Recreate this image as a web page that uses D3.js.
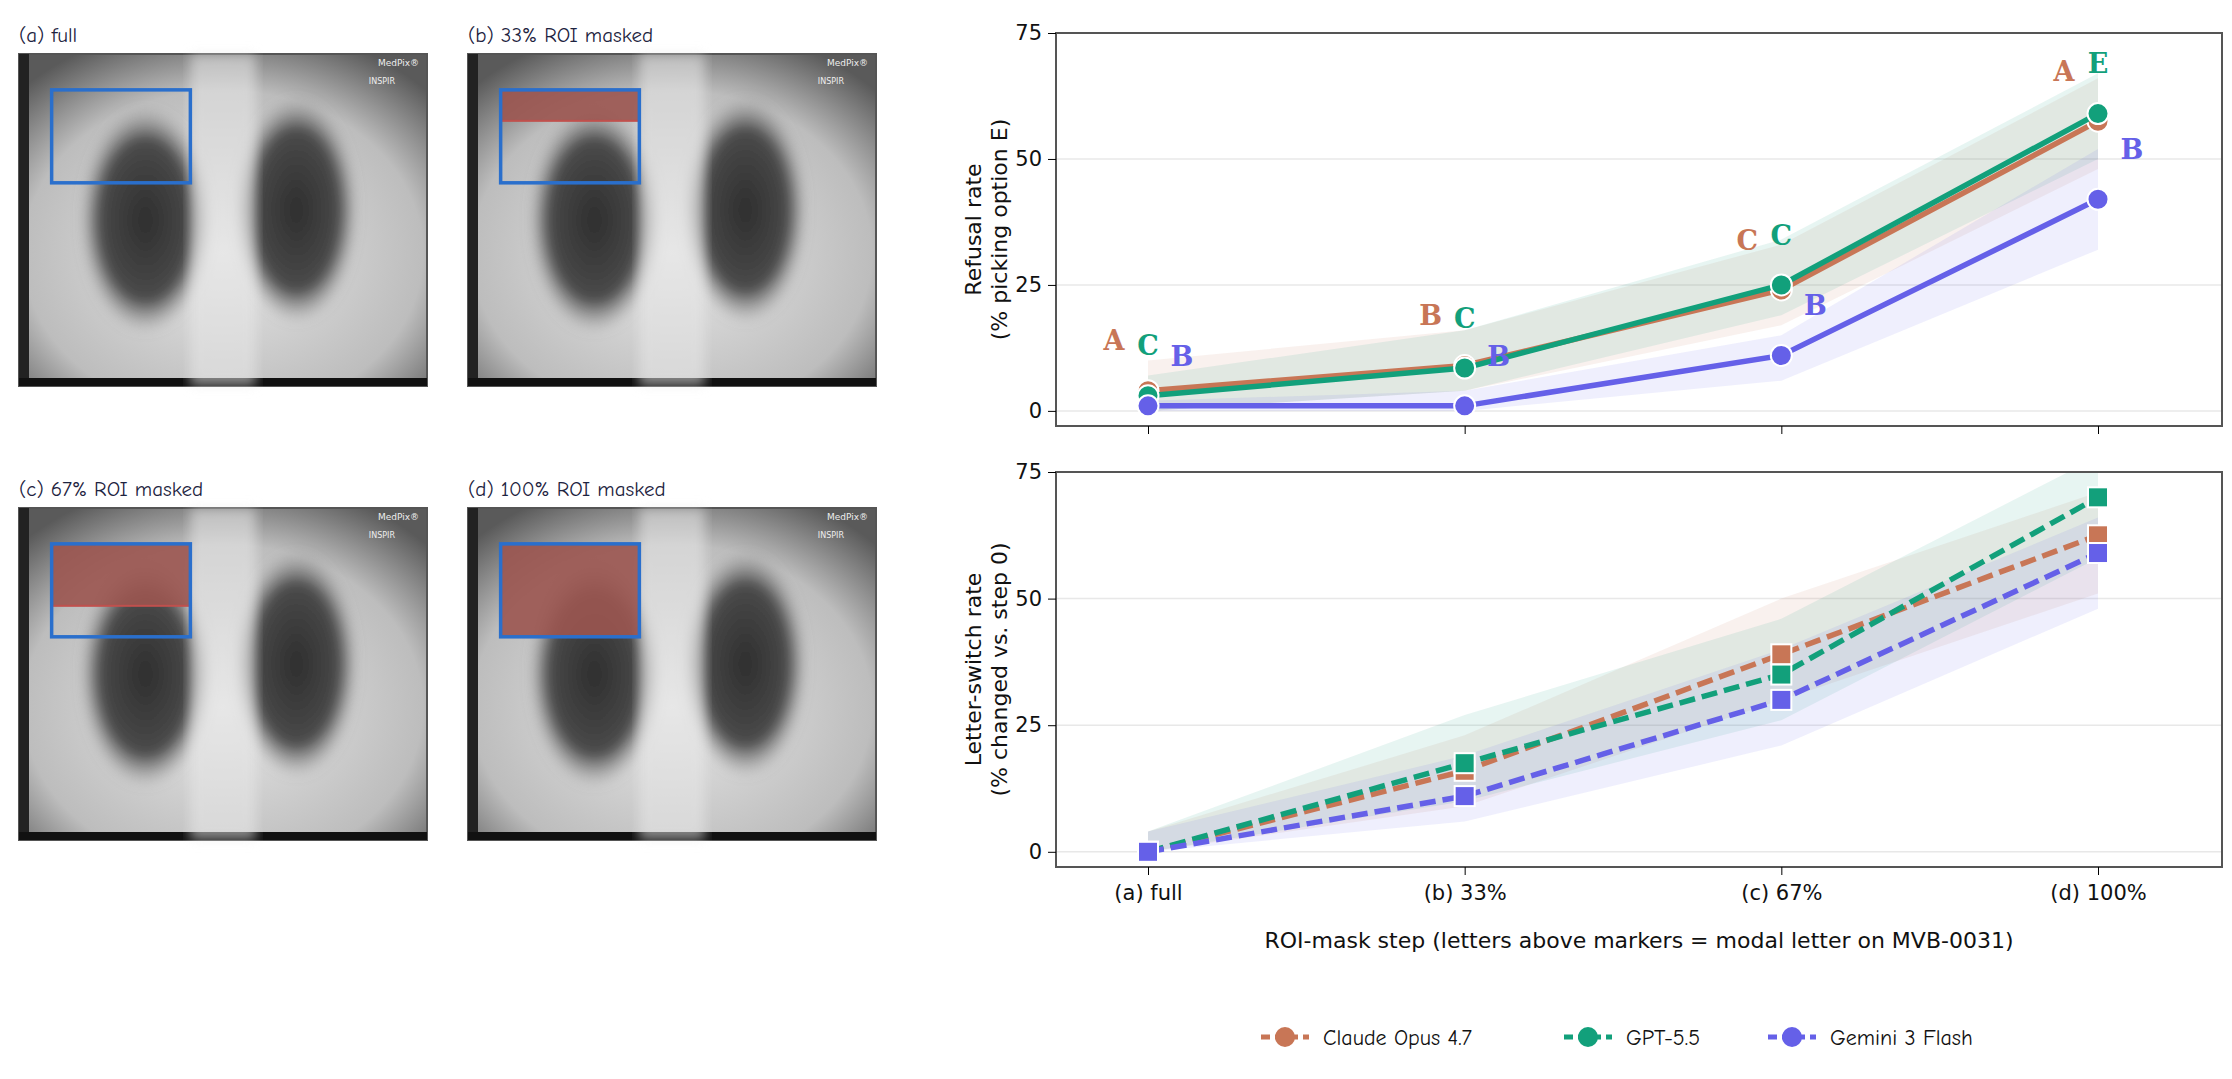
<!DOCTYPE html>
<html><head><meta charset="utf-8">
<script src="https://cdn.jsdelivr.net/npm/d3@7"></script>
<style>body{margin:0;background:#fff}</style>
</head><body>
<script>
const steps = ['(a) full', '(b) 33%', '(c) 67%', '(d) 100%'];
const panelTitles = ['(a) full', '(b) 33% ROI masked', '(c) 67% ROI masked', '(d) 100% ROI masked'];
const maskFrac = [0, 1 / 3, 2 / 3, 1];
const models = ['Claude Opus 4.7', 'GPT-5.5', 'Gemini 3 Flash'];
const colors = ['#c87656', '#12a07b', '#6560e8'];
const letterDx = [-34, 0, 34];

const refusal = [[4, 9, 24, 57.5], [3, 8.5, 25, 59], [1, 1, 11, 42]];
const refusalLo = [[0, 4, 17, 48], [0, 4, 19, 50], [0, 0, 6, 32]];
const refusalHi = [[10, 16, 33, 66], [7, 16, 34, 67], [2, 4, 15, 52]];
const letters = [['A', 'B', 'C', 'A'], ['C', 'C', 'C', 'E'], ['B', 'B', 'B', 'B']];

const switchRate = [[0, 16, 39, 62.5], [0, 17.5, 35, 70], [0, 11, 30, 59]];
const switchLo = [[0, 9, 30, 51], [0, 10, 26, 58], [0, 6, 21, 48]];
const switchHi = [[4, 23, 50, 71], [4, 27, 46, 78], [4, 19, 40, 66]];

const W = 2232, H = 1079;
const svg = d3.select('body').append('svg').attr('width', W).attr('height', H)
  .style('font-family', 'DejaVu Sans, sans-serif');
const defs = svg.append('defs');

// x-ray style panels
const bg = defs.append('radialGradient').attr('id', 'xr').attr('cx', '50%').attr('cy', '60%').attr('r', '70%');
bg.append('stop').attr('offset', '0%').attr('stop-color', '#e6e6e6');
bg.append('stop').attr('offset', '70%').attr('stop-color', '#bdbdbd');
bg.append('stop').attr('offset', '100%').attr('stop-color', '#5a5a5a');
const lung = defs.append('radialGradient').attr('id', 'lung');
lung.append('stop').attr('offset', '0%').attr('stop-color', '#2e2e2e');
lung.append('stop').attr('offset', '70%').attr('stop-color', '#4a4a4a');
lung.append('stop').attr('offset', '100%').attr('stop-color', '#8a8a8a').attr('stop-opacity', 0);
defs.append('filter').attr('id', 'blur').append('feGaussianBlur').attr('stdDeviation', 6);

const pw = 408, ph = 332;
const px = [19, 468], py = [54, 508];
panelTitles.forEach((t, i) => {
  const x0 = px[i % 2], y0 = py[Math.floor(i / 2)];
  const g = svg.append('g').attr('transform', `translate(${x0},${y0})`);
  g.append('rect').attr('width', pw).attr('height', ph).attr('fill', 'url(#xr)').attr('stroke', '#555').attr('stroke-width', 2);
  g.append('rect').attr('width', 10).attr('height', ph).attr('fill', '#222');
  g.append('rect').attr('y', ph - 8).attr('width', pw).attr('height', 8).attr('fill', '#111');
  g.append('ellipse').attr('cx', pw * 0.31).attr('cy', ph * 0.5).attr('rx', pw * 0.16).attr('ry', ph * 0.34)
    .attr('fill', 'url(#lung)').attr('filter', 'url(#blur)');
  g.append('ellipse').attr('cx', pw * 0.68).attr('cy', ph * 0.47).attr('rx', pw * 0.15).attr('ry', ph * 0.34)
    .attr('fill', 'url(#lung)').attr('filter', 'url(#blur)');
  g.append('rect').attr('x', pw * 0.42).attr('y', 0).attr('width', pw * 0.16).attr('height', ph)
    .attr('fill', '#e8e8e8').attr('opacity', 0.55).attr('filter', 'url(#blur)');
  g.append('text').attr('x', pw - 8).attr('y', 12).attr('text-anchor', 'end').attr('font-size', 9).attr('fill', '#eee').text('MedPix®');
  g.append('text').attr('x', pw - 32).attr('y', 30).attr('text-anchor', 'end').attr('font-size', 8).attr('fill', '#eee').text('INSPIR');
  const bx = pw * 0.08, by = ph * 0.108, bw = pw * 0.34, bh = ph * 0.28;
  if (maskFrac[i] > 0) {
    g.append('rect').attr('x', bx).attr('y', by).attr('width', bw).attr('height', bh * maskFrac[i])
      .attr('fill', '#9b5550').attr('fill-opacity', 0.9).attr('stroke', '#c0504d').attr('stroke-width', 2);
  }
  g.append('rect').attr('x', bx).attr('y', by).attr('width', bw).attr('height', bh)
    .attr('fill', 'none').attr('stroke', '#2a6fcc').attr('stroke-width', 3.5);
  svg.append('text').attr('x', x0).attr('y', y0 - 12).attr('font-size', 21).attr('fill', '#1d2340')
    .style('font-family', 'Comic Neue, Noto Sans, sans-serif').text(t);
});

// charts
const left = 1056, right = 2222;
const x = d3.scalePoint().domain(steps).range([1148, 2098]);

function chart(top, bottom, vals, lo, hi, opts) {
  const y = d3.scaleLinear().domain([-3, 75]).range([bottom, top]);
  const g = svg.append('g');
  [0, 25, 50, 75].forEach(v => g.append('line').attr('x1', left).attr('x2', right)
    .attr('y1', y(v)).attr('y2', y(v)).attr('stroke', '#e8e8e8').attr('stroke-width', 1.5));
  const clip = 'clip' + top;
  defs.append('clipPath').attr('id', clip).append('rect').attr('x', left).attr('y', top).attr('width', right - left).attr('height', bottom - top);
  const area = d3.area().x((d, i) => x(steps[i])).y0(d => y(d[0])).y1(d => y(d[1]));
  models.forEach((m, k) => {
    g.append('path').datum(lo[k].map((v, i) => [v, hi[k][i]])).attr('d', area)
      .attr('fill', colors[k]).attr('fill-opacity', 0.1).attr('clip-path', `url(#${clip})`);
  });
  const line = d3.line().x((d, i) => x(steps[i])).y(d => y(d));
  models.forEach((m, k) => {
    g.append('path').datum(vals[k]).attr('d', line).attr('fill', 'none').attr('stroke', colors[k])
      .attr('stroke-width', 5.5).attr('stroke-dasharray', opts.dash ? '16,7' : null);
    vals[k].forEach((v, i) => {
      if (opts.square) {
        g.append('rect').attr('x', x(steps[i]) - 10).attr('y', y(v) - 10).attr('width', 20).attr('height', 20)
          .attr('fill', colors[k]).attr('stroke', '#fff').attr('stroke-width', 2);
      } else {
        g.append('circle').attr('cx', x(steps[i])).attr('cy', y(v)).attr('r', 10.5)
          .attr('fill', colors[k]).attr('stroke', '#fff').attr('stroke-width', 2);
      }
      if (opts.letters) {
        g.append('text').attr('x', x(steps[i]) + letterDx[k]).attr('y', y(v + 8)).attr('text-anchor', 'middle')
          .attr('font-size', 27).attr('font-weight', 'bold').attr('fill', colors[k])
          .style('font-family', 'DejaVu Serif, serif').text(letters[k][i]);
      }
    });
  });
  g.append('rect').attr('x', left).attr('y', top).attr('width', right - left).attr('height', bottom - top)
    .attr('fill', 'none').attr('stroke', '#555').attr('stroke-width', 2);
  const ya = g.append('g').attr('transform', `translate(${left},0)`)
    .call(d3.axisLeft(y).tickValues([0, 25, 50, 75]).tickSize(8).tickPadding(6));
  ya.select('.domain').remove();
  ya.selectAll('text').attr('font-size', 21).attr('fill', '#111').style('font-family', 'DejaVu Sans, sans-serif');
  const xa = g.append('g').attr('transform', `translate(0,${bottom})`)
    .call(d3.axisBottom(x).tickSize(8).tickPadding(10));
  xa.select('.domain').remove();
  xa.selectAll('text').attr('font-size', 21).attr('fill', '#111').style('font-family', 'DejaVu Sans, sans-serif')
    .style('display', opts.xlabels ? null : 'none');
  const ly = (top + bottom) / 2;
  const t = g.append('text').attr('transform', `translate(${left - 62},${ly}) rotate(-90)`)
    .attr('text-anchor', 'middle').attr('font-size', 22).attr('fill', '#111');
  t.append('tspan').attr('x', 0).attr('dy', '-0.6em').text(opts.label[0]);
  t.append('tspan').attr('x', 0).attr('dy', '1.2em').text(opts.label[1]);
}

chart(33, 426, refusal, refusalLo, refusalHi,
  { letters: true, label: ['Refusal rate', '(% picking option E)'] });
chart(472, 867, switchRate, switchLo, switchHi,
  { dash: true, square: true, xlabels: true, label: ['Letter-switch rate', '(% changed vs. step 0)'] });

svg.append('text').attr('x', (left + right) / 2).attr('y', 948).attr('text-anchor', 'middle')
  .attr('font-size', 22).attr('fill', '#111').text('ROI-mask step (letters above markers = modal letter on MVB-0031)');

// legend
const lg = svg.append('g').attr('transform', 'translate(1261,1037)');
const lx = [0, 303, 507];
models.forEach((m, k) => {
  const gi = lg.append('g').attr('transform', `translate(${lx[k]},0)`);
  gi.append('line').attr('x1', 0).attr('x2', 48).attr('stroke', colors[k]).attr('stroke-width', 5).attr('stroke-dasharray', '9,5');
  gi.append('circle').attr('cx', 24).attr('r', 10).attr('fill', colors[k]);
  gi.append('text').attr('x', 62).attr('y', 8).attr('font-size', 22).attr('fill', '#111')
    .style('font-family', 'Comic Neue, Noto Sans, sans-serif').text(m);
});
</script>
</body></html>
